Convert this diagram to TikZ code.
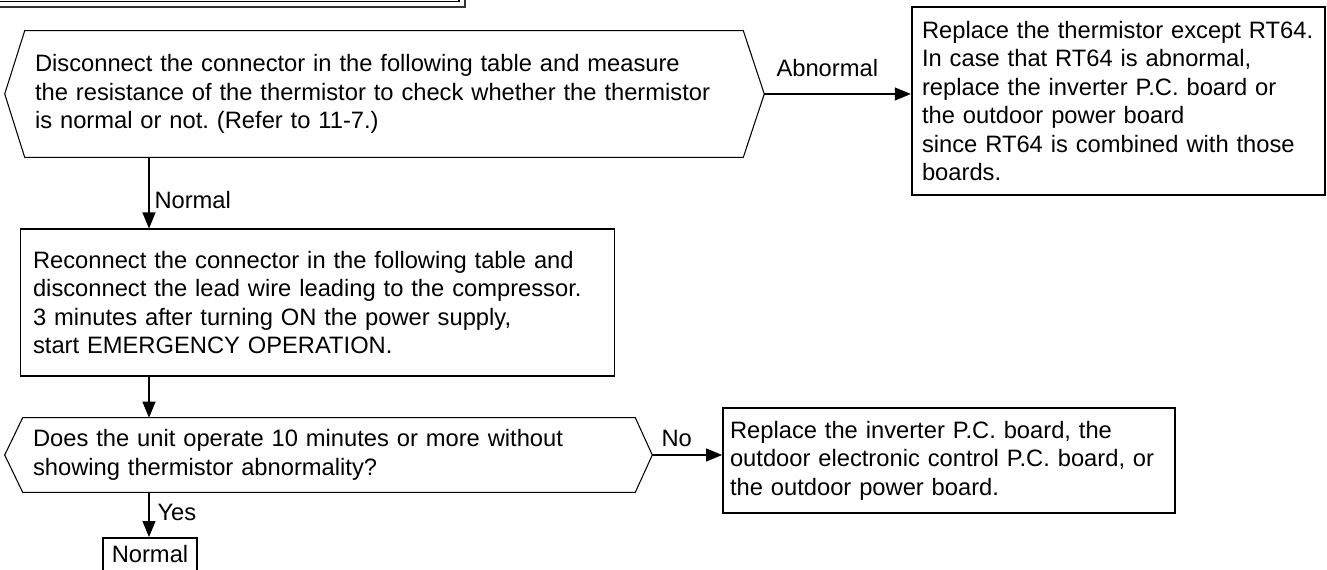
\documentclass[tikz,border=0pt]{standalone}
\usepackage{fontspec}
\setmainfont{Liberation Sans}
\usetikzlibrary{arrows.meta,positioning}
\frenchspacing

\begin{document}
\begin{tikzpicture}[x=0.02cm, y=-0.02cm,
    every node/.style={font=\fontsize{13.5}{16.2}\selectfont},
    check/.style={inner xsep=0.2cm, inner ysep=0pt, align=left},
    hexline/.style={line width=0.6pt},
    stepbox/.style={draw, line width=0.6pt, inner ysep=0pt, align=left},
    fixbox/.style={draw, line width=1.4pt, inner ysep=0pt, align=left},
    okbox/.style={draw, line width=1pt, inner xsep=0pt},
    flow/.style={-{Triangle[length=0.32cm, width=0.26cm]}, line width=0.6pt},
    lbl/.style={inner sep=0pt},
  ]
  \useasboundingbox (0,0) rectangle (1327,570);
  \clip (0,0) rectangle (1327,570);

  % bottom of the frame above
  \draw[line width=0.6pt] (0,1.5) -- (459,1.5) -- (459,0);
  \draw[line width=0.8pt, black!80] (0,7) -- (465,7) -- (465,0);

  % first check
  \node[check, text width=13.96cm, minimum height=2.52cm] (q1) at (384,94)
    {Disconnect the connector in the following table and measure\\
     the resistance of the thermistor to check whether the thermistor\\
     is normal or not. (Refer to 11-7.)};
  \draw[hexline] (q1.north west) -- (q1.north east)
    -- ([xshift=0.42cm]q1.east) coordinate (q1tip)
    -- (q1.south east) -- (q1.south west)
    -- ([xshift=-0.4cm]q1.west) -- cycle;

  \node[fixbox, inner xsep=0.2cm, text width=7.86cm, minimum height=3.76cm] (r1) at (1118.5,101)
    {Replace the thermistor except RT64.\\
     In case that RT64 is abnormal,\\
     replace the inverter P.C. board or\\
     the outdoor power board\\
     since RT64 is combined with those\\
     boards.};

  % second step
  \node[stepbox, inner xsep=0.26cm, text width=11.38cm, minimum height=2.94cm] (s1) at (317.5,302.5)
    {Reconnect the connector in the following table and\\
     disconnect the lead wire leading to the compressor.\\
     3 minutes after turning ON the power supply,\\
     start EMERGENCY OPERATION.};

  % second check
  \node[check, text width=11.84cm, minimum height=1.48cm] (q2) at (329,455)
    {Does the unit operate 10 minutes or more without\\
     showing thermistor abnormality?};
  \draw[hexline] (q2.north west) -- (q2.north east)
    -- ([xshift=0.34cm]q2.east) coordinate (q2tip)
    -- (q2.south east) -- (q2.south west)
    -- ([xshift=-0.36cm]q2.west) -- cycle;

  \node[fixbox, line width=1.1pt, inner xsep=0.14cm, text width=8.76cm, minimum height=2.1cm] (r2) at (949,460.5)
    {Replace the inverter P.C. board, the\\
     outdoor electronic control P.C. board, or\\
     the outdoor power board.};

  \node[okbox, anchor=north, minimum width=1.88cm, inner ysep=0.14cm, text depth=0.4cm] (ok) at (150,537) {Normal};

  % connectors
  \coordinate (spine) at (149,0);
  \draw[flow] (q1tip) -- node[lbl, pos=.43, anchor=south, yshift=0.34cm] {Abnormal} (q1tip -| r1.west);
  \draw[flow] (q1.south -| spine) -- node[lbl, pos=.6, anchor=west, xshift=0.1cm] {Normal} (s1.north -| spine);
  \draw[flow] (s1.south -| spine) -- (q2.north -| spine);
  \draw[flow] (q2tip) -- node[lbl, pos=.35, anchor=south, yshift=0.16cm] {No} (q2tip -| r2.west);
  \draw[flow] (q2.south -| spine) -- node[lbl, pos=.46, anchor=west, xshift=0.16cm] {Yes} (ok.north -| spine);
\end{tikzpicture}
\end{document}
